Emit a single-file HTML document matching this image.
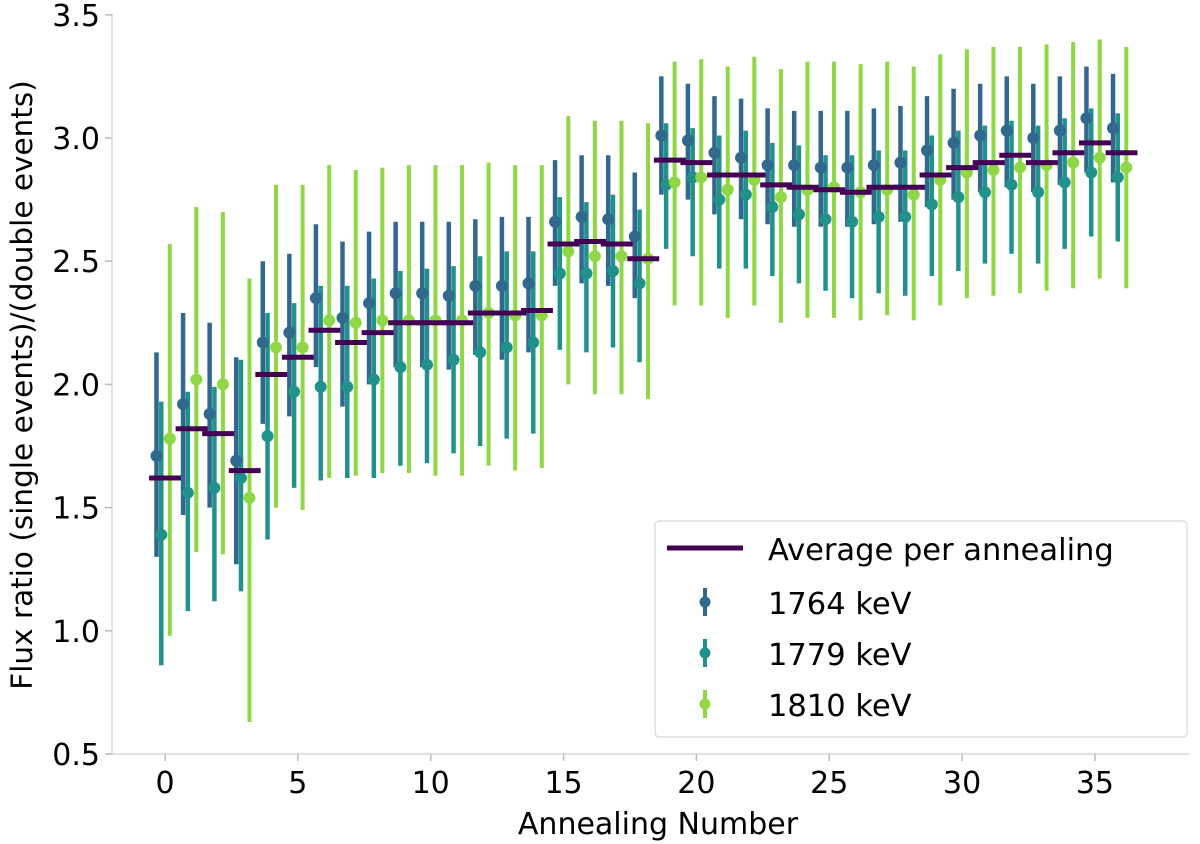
<!DOCTYPE html>
<html><head><meta charset="utf-8">
<style>
html,body{margin:0;padding:0;background:#fff;}
svg{display:block;font-family:"DejaVu Sans","Liberation Sans",sans-serif;}
</style></head>
<body>
<svg id="chart" width="1200" height="844" viewBox="0 0 1200 844" xmlns="http://www.w3.org/2000/svg">
<g id="plot"></g>
<g id="axes"></g>
<text x="658" y="834" font-size="30" text-anchor="middle" fill="#000">Annealing Number</text>
<text transform="translate(32,385) rotate(-90)" font-size="29.5" text-anchor="middle" fill="#000">Flux ratio (single events)/(double events)</text>
<g>
<rect x="655" y="521" width="532" height="216" rx="4" fill="#fff" stroke="#ddd" stroke-width="1.5"/>
<line x1="667" y1="548" x2="743" y2="548" stroke="#440154" stroke-width="5"/>
<text x="768" y="560" font-size="30.5" fill="#000">Average per annealing</text>
<line x1="705" y1="588" x2="705" y2="616" stroke="#31688e" stroke-width="4"/>
<circle cx="705" cy="602" r="5.5" fill="#31688e"/>
<text x="768" y="614" font-size="30.5" fill="#000">1764 keV</text>
<line x1="705" y1="639" x2="705" y2="667" stroke="#21918c" stroke-width="4"/>
<circle cx="705" cy="653" r="5.5" fill="#21918c"/>
<text x="768" y="665" font-size="30.5" fill="#000">1779 keV</text>
<line x1="705" y1="690" x2="705" y2="718" stroke="#8fd744" stroke-width="4"/>
<circle cx="705" cy="704" r="5.5" fill="#8fd744"/>
<text x="768" y="716" font-size="30.5" fill="#000">1810 keV</text>
</g>
</svg>
<script>
const annealing = [0,1,2,3,4,5,6,7,8,9,10,11,12,13,14,15,16,17,18,19,20,21,22,23,24,25,26,27,28,29,30,31,32,33,34,35,36];
const avg = [1.62,1.82,1.80,1.65,2.04,2.11,2.22,2.17,2.21,2.25,2.25,2.25,2.29,2.29,2.30,2.57,2.58,2.57,2.51,2.91,2.90,2.85,2.85,2.81,2.80,2.79,2.78,2.80,2.80,2.85,2.88,2.90,2.93,2.90,2.94,2.98,2.94];
const v1764 = [1.71,1.92,1.88,1.69,2.17,2.21,2.35,2.27,2.33,2.37,2.37,2.36,2.40,2.40,2.41,2.66,2.68,2.67,2.60,3.01,2.99,2.94,2.92,2.89,2.89,2.88,2.88,2.89,2.90,2.95,2.98,3.01,3.03,3.00,3.03,3.08,3.04];
const lo1764 = [1.30,1.47,1.50,1.27,1.84,1.87,2.07,1.91,2.00,2.07,2.07,2.06,2.12,2.10,2.13,2.40,2.41,2.40,2.35,2.77,2.75,2.69,2.67,2.65,2.64,2.64,2.64,2.65,2.66,2.72,2.75,2.78,2.80,2.78,2.81,2.86,2.82];
const hi1764 = [2.13,2.29,2.25,2.11,2.50,2.53,2.65,2.58,2.62,2.66,2.66,2.66,2.67,2.68,2.68,2.91,2.93,2.93,2.86,3.25,3.22,3.17,3.16,3.12,3.11,3.11,3.11,3.12,3.13,3.17,3.20,3.22,3.25,3.22,3.25,3.29,3.26];
const v1779 = [1.39,1.56,1.58,1.62,1.79,1.97,1.99,1.99,2.02,2.07,2.08,2.10,2.13,2.15,2.17,2.45,2.45,2.46,2.41,2.81,2.84,2.75,2.77,2.72,2.69,2.67,2.66,2.68,2.68,2.73,2.76,2.78,2.81,2.78,2.82,2.86,2.84];
const lo1779 = [0.86,1.08,1.12,1.16,1.37,1.58,1.61,1.62,1.62,1.67,1.68,1.72,1.75,1.78,1.80,2.14,2.13,2.15,2.09,2.55,2.52,2.47,2.47,2.44,2.41,2.38,2.35,2.37,2.36,2.44,2.46,2.49,2.53,2.49,2.55,2.60,2.58];
const hi1779 = [1.93,1.97,1.99,2.10,2.29,2.33,2.40,2.40,2.43,2.46,2.47,2.48,2.52,2.54,2.54,2.76,2.74,2.77,2.71,3.06,3.04,3.01,3.03,2.98,2.97,2.93,2.93,2.95,2.95,3.01,3.03,3.05,3.07,3.05,3.08,3.12,3.10];
const v1810 = [1.78,2.02,2.00,1.54,2.15,2.15,2.26,2.25,2.26,2.26,2.26,2.26,2.29,2.28,2.28,2.54,2.52,2.52,2.51,2.82,2.84,2.79,2.83,2.76,2.79,2.80,2.78,2.79,2.77,2.83,2.86,2.87,2.88,2.89,2.90,2.92,2.88];
const lo1810 = [0.98,1.32,1.31,0.63,1.50,1.49,1.62,1.63,1.64,1.64,1.63,1.63,1.67,1.65,1.66,2.00,1.96,1.96,1.94,2.32,2.32,2.27,2.32,2.25,2.27,2.27,2.26,2.28,2.26,2.32,2.35,2.36,2.37,2.38,2.39,2.43,2.39];
const hi1810 = [2.57,2.72,2.70,2.43,2.81,2.81,2.89,2.87,2.88,2.89,2.89,2.89,2.90,2.89,2.89,3.09,3.07,3.07,3.06,3.31,3.32,3.29,3.33,3.28,3.31,3.31,3.30,3.31,3.29,3.34,3.36,3.37,3.37,3.38,3.39,3.40,3.37];
const xTicks = [0,5,10,15,20,25,30,35];
const yTicks = [0.5,1.0,1.5,2.0,2.5,3.0,3.5];
const yTickLabels = ["0.5","1.0","1.5","2.0","2.5","3.0","3.5"];

const NS = "http://www.w3.org/2000/svg";
const X0 = 165, XS = 26.57;
const xScale = v => X0 + v * XS;
const yScale = v => 754 - (v - 0.5) * 246.4;
const plot = document.getElementById('plot');
const axes = document.getElementById('axes');
function mk(tag, attrs, parent){
  const e = document.createElementNS(NS, tag);
  for (const k in attrs) e.setAttribute(k, attrs[k]);
  parent.appendChild(e);
  return e;
}
const ys = mk('line',{x1:112,y1:14,x2:112,y2:754,stroke:'#d9d9d9','stroke-width':1.5},axes);


const xs = mk('line',{x1:112,y1:754,x2:1190,y2:754,stroke:'#d9d9d9','stroke-width':1.5},axes);


xTicks.forEach(t => {
  const x = xScale(t);
  const tk = mk('line',{x1:x,y1:754,x2:x,y2:761,stroke:'#bbb','stroke-width':1.5},axes);
  
  
  const tl = mk('text',{x:x,y:793,'font-size':30,'text-anchor':'middle',fill:'#000'},axes);
  tl.textContent = String(t);
  
  
});
yTicks.forEach((t,i) => {
  const y = yScale(t);
  const tk = mk('line',{x1:105,y1:y,x2:112,y2:y,stroke:'#bbb','stroke-width':1.5},axes);
  
  
  const tl = mk('text',{x:100,y:y+11,'font-size':30,'text-anchor':'end',fill:'#000'},axes);
  tl.textContent = yTickLabels[i];
  
  
});
const series = [
  {name:'1764', v:v1764, lo:lo1764, hi:hi1764, off:-0.32, color:'#31688e', w:4.5},
  {name:'1779', v:v1779, lo:lo1779, hi:hi1779, off:-0.14, color:'#21918c', w:4.5},
  {name:'1810', v:v1810, lo:lo1810, hi:hi1810, off:0.18, color:'#8fd744', w:4}
];
series.forEach(s => {
  annealing.forEach((a,i) => {
    const x = xScale(a + s.off);
    const bar = mk('line',{x1:x,y1:yScale(s.lo[i]),x2:x,y2:yScale(s.hi[i]),stroke:s.color,'stroke-width':s.w},plot);
    
    
  });
});
series.forEach(s => {
  annealing.forEach((a,i) => {
    const dot = mk('circle',{cx:xScale(a + s.off),cy:yScale(s.v[i]),r:6,fill:s.color},plot);
    
    
  });
});
annealing.forEach((a,i) => {
  const y = yScale(avg[i]);
  const l = mk('line',{x1:xScale(a-0.6),y1:y,x2:xScale(a+0.6),y2:y,stroke:'#440154','stroke-width':5},plot);
  
  
});
</script>
</body></html>
